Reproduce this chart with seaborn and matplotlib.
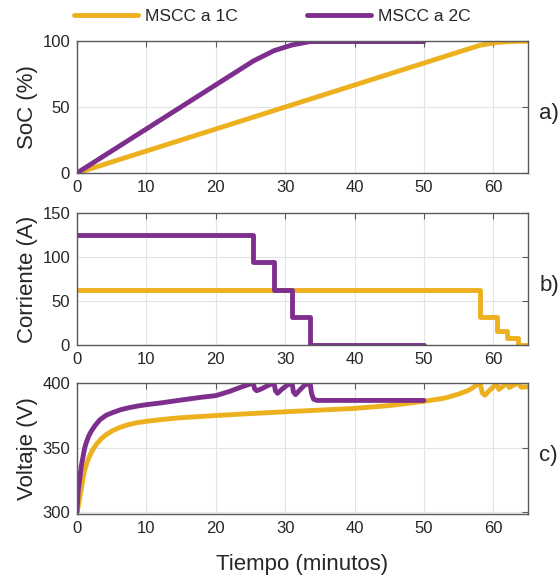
import matplotlib
matplotlib.use("Agg")
import matplotlib.pyplot as plt
import seaborn as sns
import pandas as pd

# ---- data -------------------------------------------------------------
series_names = ["MSCC a 1C", "MSCC a 2C"]
colors = ["#EDB120", "#7E2F8E"]

# State of charge (%) vs time (min)
soc_1c_t = [0, 58.1, 60.5, 62.0, 63.6, 65.0]
soc_1c_v = [0, 96.8, 98.9, 99.5, 99.8, 99.8]
soc_2c_t = [0, 25.4, 28.4, 31.0, 33.6, 50.0]
soc_2c_v = [0, 84.8, 92.7, 97.0, 99.6, 99.6]

# Charging current (A), step changes
cur_1c_t = [0, 58.1, 60.5, 62.0, 63.6, 65.0]
cur_1c_v = [62.5, 31.25, 15.6, 7.8, 0, 0]
cur_2c_t = [0, 25.4, 28.4, 31.0, 33.6, 50.0]
cur_2c_v = [125, 93.75, 62.5, 31.25, 0, 0]

# Pack voltage (V)
volt_1c_t = [0, 0.1, 0.3, 0.63, 0.85, 1.1, 1.45, 1.83, 2.3, 2.8, 3.5, 4.2,
             5.1, 6.15, 7.3, 8.6, 10, 11.7, 13.5, 15, 20,
             25, 30, 35, 40, 45, 50, 53, 55, 56.5, 58.1,
             58.4, 58.8, 59.5, 60.5, 60.8, 61.3, 62.0, 62.3, 63.0, 63.6,
             64.0, 65.0]
volt_1c_v = [300, 302, 308, 318, 325.5, 332, 338.5, 343.6, 348.5, 352.6,
             356.8, 360.0, 363.0, 365.5, 367.6, 369.2, 370.3, 371.4, 372.4,
             373.1, 374.8, 376.3, 377.7, 379.0, 380.3, 382.5, 385.8,
             388.3, 391.4, 394.5, 400,
             392.5, 390.5, 394.5, 399.5, 395.0, 397.0, 400, 396.5, 398.5,
             400, 396.8, 397.0]
volt_2c_t = [0, 0.05, 0.2, 0.4, 0.6, 0.9, 1.1, 1.35, 1.7, 2.1, 2.6, 3.3, 4.2,
             5.2, 6.3, 7.6, 8.8, 10, 12, 15, 18, 20, 22, 24, 25.4,
             25.6, 25.9, 26.6, 27.5, 28.4, 28.6, 28.9, 29.6, 30.3, 31.0,
             31.2, 31.5, 32.1, 32.8, 33.6, 33.8, 34.1, 34.6, 50.0]
volt_2c_v = [300, 305, 318, 325.5, 335, 343.6, 349.5, 354, 359, 363, 367,
             371.5, 375, 377.2, 379.3, 381, 382.2, 383.2, 384.5,
             386.8, 389, 390.2, 393.5, 397.5, 400,
             395.5, 394.0, 395.5, 398.0, 400, 394.0, 392.0, 395.5, 398.3, 400,
             393.0, 391.0, 394.5, 398.3, 400, 392.0, 387.5, 386.5, 386.5]

xticks = [0, 10, 20, 30, 40, 50, 60]

# ---- style ------------------------------------------------------------
sns.set_theme(style="white")
plt.rcParams["font.family"] = ["Liberation Sans", "DejaVu Sans"]
text_col = "#262626"
spine_col = "#5a5a5a"

fig = plt.figure(figsize=(5.59, 5.81), dpi=100)
left, width = 0.1377, 0.8068
ax1 = fig.add_axes([left, 0.7022, width, 0.2272])
ax2 = fig.add_axes([left, 0.4062, width, 0.2272])
ax3 = fig.add_axes([left, 0.1153, width, 0.2255])

lw = 3.5


def draw(ax, ts, vs, **kw):
    for t, v, c, name in zip(ts, vs, colors, series_names):
        df = pd.DataFrame({"t": t, "v": v})
        sns.lineplot(data=df, x="t", y="v", ax=ax, color=c, lw=lw,
                     estimator=None, sort=False, label=name,
                     legend=False, solid_joinstyle="round", **kw)


draw(ax1, [soc_1c_t, soc_2c_t], [soc_1c_v, soc_2c_v])
draw(ax2, [cur_1c_t, cur_2c_t], [cur_1c_v, cur_2c_v], drawstyle="steps-post")
draw(ax3, [volt_1c_t, volt_2c_t], [volt_1c_v, volt_2c_v])

ax1.set_ylim(0, 100)
ax1.set_yticks([0, 50, 100])
ax2.set_ylim(0, 150)
ax2.set_yticks([0, 50, 100, 150])
ax3.set_ylim(298.5, 400)
ax3.set_yticks([300, 350, 400])

ax1.set_ylabel("SoC (%)", fontsize=16, color=text_col, labelpad=3)
ax2.set_ylabel("Corriente (A)", fontsize=16, color=text_col, labelpad=3)
ax3.set_ylabel("Voltaje (V)", fontsize=16, color=text_col, labelpad=3)
ax3.set_xlabel("Tiempo (minutos)", fontsize=16, color=text_col, labelpad=13)

for ax, tag in zip([ax1, ax2, ax3], ["a)", "b)", "c)"]):
    ax.set_xlim(0, 65)
    ax.set_xticks(xticks)
    if ax is not ax3:
        ax.set_xlabel("")
    ax.grid(True, color="#e3e3e3", lw=0.8)
    ax.set_axisbelow(True)
    for s in ax.spines.values():
        s.set_visible(True)
        s.set_color(spine_col)
        s.set_linewidth(1.0)
    ax.tick_params(direction="in", length=4, width=0.8, color=spine_col,
                   labelsize=12, labelcolor=text_col, top=True, right=True)
    ax.tick_params(axis="x", pad=5)
    ax.tick_params(axis="y", pad=5)
    ax.text(1.025, 0.45, tag, transform=ax.transAxes, fontsize=16,
            color=text_col, ha="left", va="center")

handles = [plt.Line2D([], [], color=c, lw=lw) for c in colors]
fig.legend(handles, series_names, loc="center", bbox_to_anchor=(0.487, 0.972),
           ncol=2, frameon=False, fontsize=12.5, handlelength=3.7,
           handletextpad=0.4, columnspacing=4.0, labelcolor=text_col)

fig.savefig("out.png", dpi=100)
